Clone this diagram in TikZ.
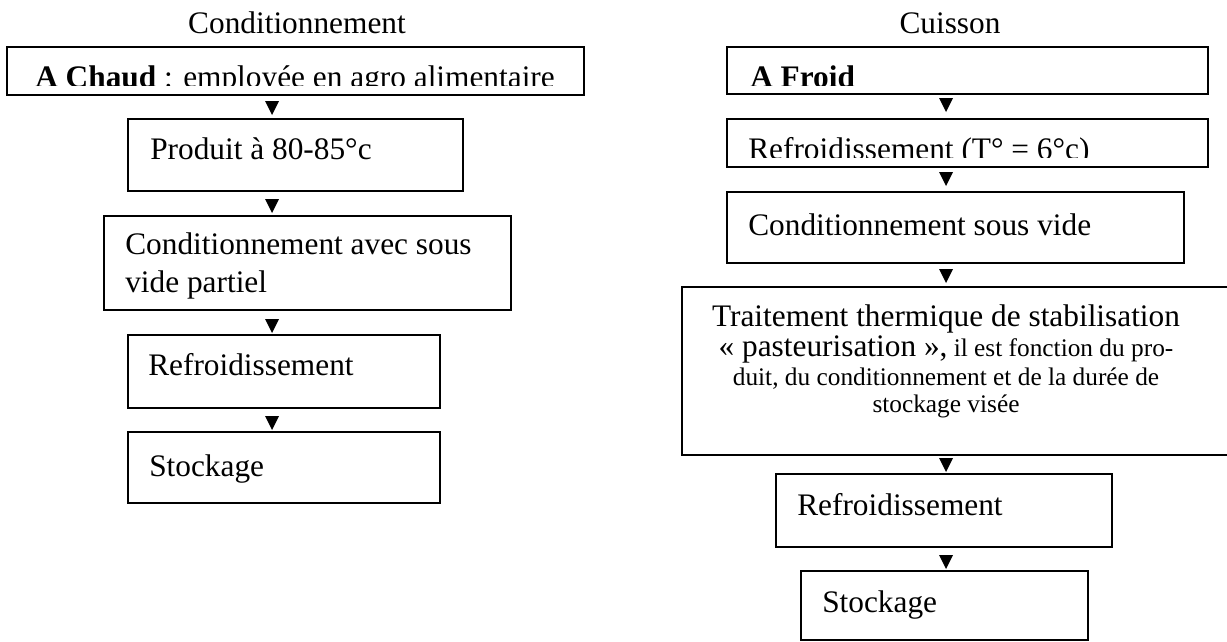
\documentclass[tikz,border=0pt]{standalone}
\usepackage{fontspec}
\setmainfont{Liberation Serif}
\newcommand\dtri[2]{\fill[black] (#1-7,#2-14) -- (#1+7,#2-14) -- (#1,#2) -- cycle;}
\begin{document}
\begin{tikzpicture}[x=0.75pt,y=-0.75pt,
  box/.style={draw=black,line width=1.4pt},
  txt/.style={anchor=base west,inner sep=0pt,font=\fontsize{23.5}{26}\selectfont},
  ctxt/.style={anchor=base,inner sep=0pt,font=\fontsize{23.5}{26}\selectfont},
  smtxt/.style={anchor=base,inner sep=0pt,font=\fontsize{19}{22}\selectfont}]
\useasboundingbox (0,0) rectangle (1227,642);
\clip (0,0) rectangle (1227,642);
% titles
\node[ctxt] (t1) at (297,34) {Conditionnement};
\node[ctxt] (t2) at (950,34) {Cuisson};
% left column
\draw[box] (7,47) rectangle (584,95);
\begin{scope}
  \clip (8,48) rectangle (583,86);
  \node[txt] (l1) at (35,88) {\textbf{A Chaud} : employée en agro alimentaire};
\end{scope}
\dtri{272}{115}
\draw[box] (128,119) rectangle (463,191);
\node[txt] (l2) at (150,159) {Produit à 80-85°c};
\dtri{272}{213}
\draw[box] (104,216) rectangle (511,310);
\node[txt] (l3a) at (125,254) {Conditionnement avec sous};
\node[txt] (l3b) at (125,292) {vide partiel};
\dtri{272}{333}
\draw[box] (128,335) rectangle (440,408);
\node[txt] (l4) at (148,375) {Refroidissement};
\dtri{272}{430}
\draw[box] (128,432) rectangle (440,503);
\node[txt] (l5) at (149,476) {Stockage};
% right column
\draw[box] (727,47) rectangle (1208,94);
\begin{scope}
  \clip (728,48) rectangle (1207,86);
  \node[txt] (r1) at (750,88) {\textbf{A Froid}};
\end{scope}
\dtri{946}{112}
\draw[box] (727,119) rectangle (1208,167);
\begin{scope}
  \clip (728,120) rectangle (1207,157);
  \node[txt] (r2) at (748,159) {Refroidissement (T° = 6°c)};
\end{scope}
\dtri{946}{186}
\draw[box] (727,192) rectangle (1184,263);
\node[txt] (r3) at (748,235) {Conditionnement sous vide};
\dtri{946}{283}
\draw[box] (682,287) rectangle (1240,455);
\node[ctxt] (r4a) at (946,326) {Traitement thermique de stabilisation};
\node[ctxt] (r4b) at (946,356) {« pasteurisation »,{\fontsize{19}{22}\selectfont{} il est fonction du pro-}};
\node[smtxt] (r4c) at (946,385) {duit, du conditionnement et de la durée de};
\node[smtxt] (r4d) at (946,412) {stockage visée};
\dtri{946}{472}
\draw[box] (776,474) rectangle (1112,547);
\node[txt] (r5) at (797,515) {Refroidissement};
\dtri{946}{569}
\draw[box] (801,571) rectangle (1088,640);
\node[txt] (r6) at (822,612) {Stockage};
\end{tikzpicture}
\end{document}
